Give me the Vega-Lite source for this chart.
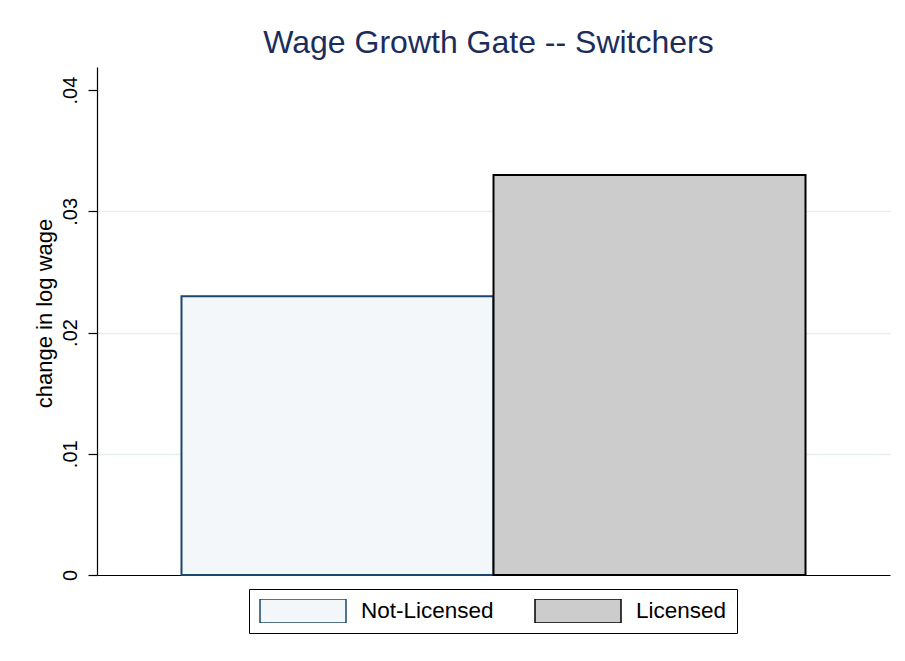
{
  "$schema": "https://vega.github.io/schema/vega-lite/v6.json",
  "width": 793,
  "height": 508,
  "autosize": {"type": "none"},
  "padding": {"left": 97, "top": 67, "right": 15, "bottom": 86},
  "background": "white",
  "title": {
    "text": "Wage Growth Gate -- Switchers",
    "fontSize": 32,
    "font": "Liberation Sans",
    "fontWeight": "normal",
    "color": "#1c2d5c",
    "anchor": "middle",
    "baseline": "alphabetic",
    "offset": 12,
    "dy": 30,
    "dx": -5
  },
  "data": {
    "values": [
      {"status": "Not-Licensed", "value": 0.023},
      {"status": "Licensed", "value": 0.033}
    ]
  },
  "mark": {"type": "bar", "strokeWidth": 2},
  "encoding": {
    "x": {
      "field": "status",
      "type": "nominal",
      "sort": ["Not-Licensed", "Licensed"],
      "scale": {"paddingInner": 0, "paddingOuter": 0.2708},
      "axis": {"labels": false, "ticks": false, "title": null, "domainColor": "black", "domainWidth": 1.2, "grid": false}
    },
    "y": {
      "field": "value",
      "type": "quantitative",
      "scale": {"domain": [0, 0.0419], "nice": false, "zero": true},
      "axis": {
        "values": [0, 0.01, 0.02, 0.03, 0.04],
        "labelExpr": "datum.value == 0 ? '0' : replace(format(datum.value, '.2f'), '0.', '.')",
        "labelAngle": -90,
        "labelAlign": "center",
        "labelBaseline": "alphabetic",
        "labelPadding": 12,
        "labelFontSize": 20,
        "labelFont": "Liberation Sans",
        "labelColor": "black",
        "labelOverlap": false,
        "tickColor": "black",
        "tickSize": 9,
        "tickWidth": 1.2,
        "domainColor": "black",
        "domainWidth": 1.2,
        "grid": true,
        "gridColor": {"condition": {"test": "datum.value == 0 || datum.value >= 0.04", "value": "transparent"}, "value": "#e6eef2"},
        "gridWidth": 1.5,
        "title": "change in log wage",
        "titleFontSize": 22,
        "titleFont": "Liberation Sans",
        "titleFontWeight": "normal",
        "titleColor": "black",
        "titlePadding": 4,
        "titleY": 246
      }
    },
    "fill": {
      "field": "status",
      "type": "nominal",
      "scale": {"domain": ["Not-Licensed", "Licensed"], "range": ["#f4f7f9", "#cccccc"]},
      "legend": {"title": null}
    },
    "stroke": {
      "field": "status",
      "type": "nominal",
      "scale": {"domain": ["Not-Licensed", "Licensed"], "range": ["#1a476f", "#000000"]},
      "legend": {"title": null}
    }
  },
  "config": {
    "font": "Liberation Sans",
    "view": {"stroke": null},
    "legend": {
      "orient": "none",
      "legendX": 152,
      "legendY": 522,
      "direction": "horizontal",
      "columns": 2,
      "symbolType": "M-1,-0.279H1V0.279H-1Z",
      "symbolSize": 7396,
      "symbolStrokeWidth": 1.5,
      "symbolOpacity": 1,
      "clipHeight": 24,
      "labelFont": "Liberation Sans",
      "labelFontSize": 22.5,
      "labelColor": "black",
      "labelOffset": 14,
      "labelLimit": 300,
      "columnPadding": 40,
      "padding": 10,
      "strokeColor": "black",
      "strokeWidth": 1
    }
  }
}
